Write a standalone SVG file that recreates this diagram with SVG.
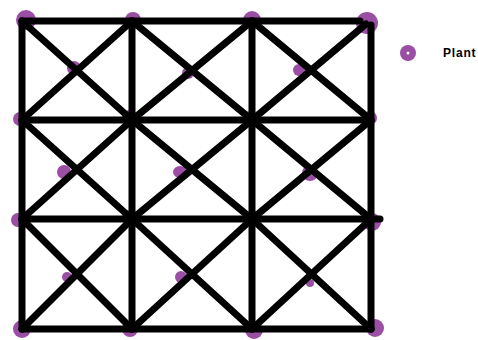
<svg xmlns="http://www.w3.org/2000/svg" width="478" height="340" viewBox="0 0 478 340">
<style>
.dot{fill:#9a4fa5}
.ln{stroke:#000;stroke-width:7;stroke-linecap:round;fill:none}
.lbl{font-family:"Liberation Sans",Arial,sans-serif;font-weight:bold;font-size:12px;fill:#000;letter-spacing:0.8px}
</style>
<rect width="478" height="340" fill="#fff"/>
<g id="plants">
<g id="p00"><circle class="dot" cx="26" cy="20" r="10"/></g>
<g id="p01"><circle class="dot" cx="133" cy="20" r="8"/></g>
<g id="p02"><circle class="dot" cx="252" cy="20" r="9"/></g>
<g id="p03"><circle class="dot" cx="367" cy="23" r="11"/></g>
<g id="c00"><circle class="dot" cx="74" cy="68" r="7"/></g>
<g id="c01"><circle class="dot" cx="188" cy="73" r="6"/></g>
<g id="c02"><circle class="dot" cx="299" cy="70" r="6"/></g>
<g id="p10"><circle class="dot" cx="20" cy="119" r="7"/></g>
<g id="p11"><circle class="dot" cx="130" cy="118" r="8"/></g>
<g id="p12"><circle class="dot" cx="250" cy="118" r="7"/></g>
<g id="p13"><circle class="dot" cx="370" cy="118" r="7"/></g>
<g id="c10"><circle class="dot" cx="64" cy="172" r="7"/></g>
<g id="c11"><ellipse class="dot" cx="180" cy="172" rx="7" ry="6"/></g>
<g id="c12"><circle class="dot" cx="310" cy="173" r="8"/></g>
<g id="p20"><circle class="dot" cx="18" cy="220" r="7"/></g>
<g id="p21"><circle class="dot" cx="130" cy="218" r="8"/></g>
<g id="p22"><circle class="dot" cx="254" cy="218" r="7"/></g>
<g id="p23"><circle class="dot" cx="372" cy="222" r="9"/></g>
<g id="c20"><circle class="dot" cx="67" cy="277" r="5"/></g>
<g id="c21"><circle class="dot" cx="181" cy="277" r="6"/></g>
<g id="c22"><circle class="dot" cx="310" cy="283" r="4"/></g>
<g id="p30"><circle class="dot" cx="22" cy="329" r="9"/></g>
<g id="p31"><circle class="dot" cx="130" cy="329" r="8"/></g>
<g id="p32"><circle class="dot" cx="254" cy="330" r="9"/></g>
<g id="p33"><circle class="dot" cx="375" cy="328" r="9"/></g>
</g>
<g id="connectors" class="ln">
<line x1="22" y1="21" x2="360" y2="21"/>
<line x1="22" y1="120" x2="371" y2="120"/>
<line x1="22" y1="219" x2="380" y2="219"/>
<line x1="22" y1="329" x2="371" y2="329"/>
<line x1="22" y1="21" x2="22" y2="329"/>
<line x1="132" y1="21" x2="132" y2="329"/>
<line x1="252" y1="21" x2="252" y2="329"/>
<line x1="371" y1="25" x2="371" y2="329"/>
<line x1="22" y1="21" x2="132" y2="120"/><line x1="22" y1="120" x2="132" y2="21"/>
<line x1="132" y1="21" x2="252" y2="120"/><line x1="132" y1="120" x2="252" y2="21"/>
<line x1="252" y1="21" x2="371" y2="120"/><line x1="252" y1="120" x2="366" y2="24"/>
<line x1="22" y1="120" x2="132" y2="219"/><line x1="22" y1="219" x2="132" y2="120"/>
<line x1="132" y1="120" x2="252" y2="219"/><line x1="132" y1="219" x2="252" y2="120"/>
<line x1="252" y1="120" x2="371" y2="219"/><line x1="252" y1="219" x2="371" y2="120"/>
<line x1="22" y1="219" x2="132" y2="329"/><line x1="22" y1="329" x2="132" y2="219"/>
<line x1="132" y1="219" x2="252" y2="329"/><line x1="132" y1="329" x2="252" y2="219"/>
<line x1="252" y1="219" x2="371" y2="329"/><line x1="252" y1="329" x2="371" y2="219"/>
</g>
<g id="legend">
<circle class="dot" cx="408" cy="53" r="8"/>
<circle cx="408" cy="53" r="1.5" fill="#fff"/>
<text class="lbl" x="443" y="57">Plant</text>
</g>
</svg>
